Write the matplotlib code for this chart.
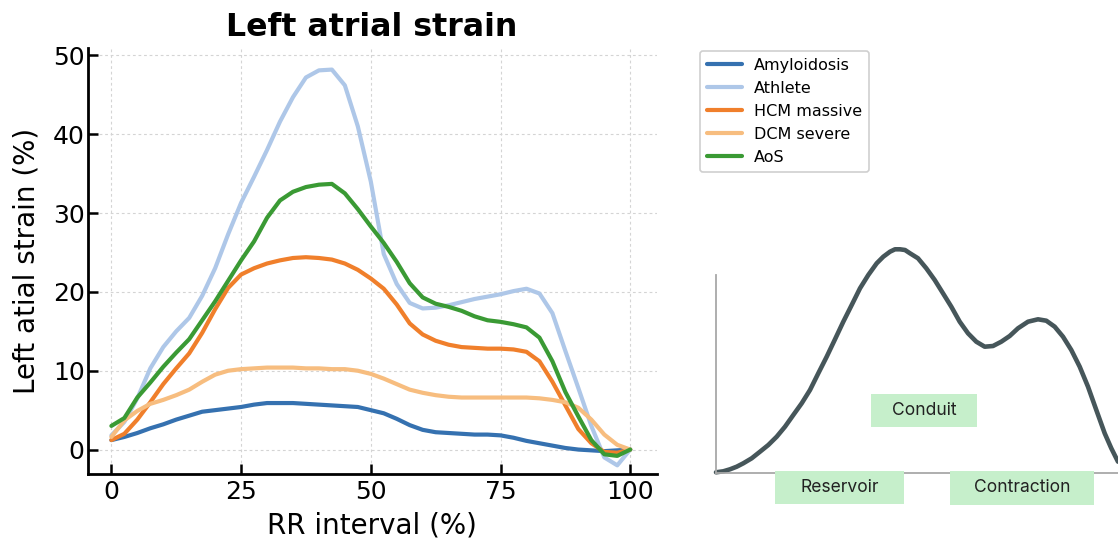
import matplotlib.pyplot as plt
from matplotlib.patches import Rectangle


"""
Left atrial strain curves per group, plus a schematic of the strain phases
"""

# RR interval (%) sample positions
rr = [0, 2.5, 5, 7.5, 10, 12.5, 15, 17.5, 20, 22.5, 25, 27.5, 30, 32.5, 35, 37.5, 40,
      42.5, 45, 47.5, 50, 52.5, 55, 57.5, 60, 62.5, 65, 67.5, 70, 72.5, 75, 77.5, 80,
      82.5, 85, 87.5, 90, 92.5, 95, 97.5, 100]

amyloidosis = [1.2, 1.6, 2.1, 2.7, 3.2, 3.8, 4.3, 4.8, 5.0, 5.2, 5.4, 5.7, 5.9, 5.9, 5.9,
               5.8, 5.7, 5.6, 5.5, 5.4, 5.0, 4.6, 3.9, 3.1, 2.5, 2.2, 2.1, 2.0, 1.9, 1.9,
               1.8, 1.5, 1.1, 0.8, 0.5, 0.2, 0.0, -0.1, -0.2, -0.1, 0.0]
athlete = [1.8, 3.5, 6.5, 10.3, 13.0, 15.0, 16.7, 19.5, 23.0, 27.3, 31.3, 34.6, 38.0, 41.6,
           44.7, 47.2, 48.1, 48.2, 46.2, 41.0, 34.0, 24.8, 21.0, 18.6, 17.9, 18.0, 18.3,
           18.7, 19.1, 19.4, 19.7, 20.1, 20.4, 19.8, 17.3, 12.5, 7.8, 3.0, -1.0, -2.0, 0.0]
hcm_massive = [1.2, 2.0, 3.8, 6.0, 8.3, 10.3, 12.2, 14.8, 17.8, 20.5, 22.2, 23.0, 23.6, 24.0,
               24.3, 24.4, 24.3, 24.1, 23.6, 22.8, 21.7, 20.4, 18.4, 16.0, 14.6, 13.8, 13.3,
               13.0, 12.9, 12.8, 12.8, 12.7, 12.4, 11.2, 8.6, 5.6, 2.6, 0.8, -0.3, -0.4, 0.0]
dcm_severe = [1.6, 3.7, 4.9, 5.8, 6.3, 6.9, 7.6, 8.6, 9.5, 10.0, 10.2, 10.3, 10.4, 10.4,
              10.4, 10.3, 10.3, 10.2, 10.2, 10.0, 9.6, 9.0, 8.3, 7.6, 7.2, 6.9, 6.7, 6.6,
              6.6, 6.6, 6.6, 6.6, 6.6, 6.5, 6.3, 6.0, 5.3, 3.8, 1.9, 0.6, 0.0]
aos = [3.0, 4.0, 6.6, 8.5, 10.5, 12.3, 14.0, 16.4, 18.8, 21.4, 24.0, 26.4, 29.4, 31.6, 32.7,
       33.3, 33.6, 33.7, 32.5, 30.5, 28.3, 26.2, 23.8, 21.1, 19.3, 18.5, 18.1, 17.6, 16.9,
       16.4, 16.2, 15.9, 15.5, 14.2, 11.2, 7.3, 4.2, 1.2, -0.6, -0.8, 0.0]

groups = ['Amyloidosis', 'Athlete', 'HCM massive', 'DCM severe', 'AoS']
colors = ['#3571b0', '#aec7e8', '#f07f2b', '#f7bd7f', '#3a9a34']

# schematic curve (pixel-like units from the axes origin)
sketch_x = [0.3, 7.6, 14.3, 21, 27.6, 36, 44.3, 52.6, 61, 69.3, 77.6, 86, 94.3, 102.6, 111,
            119.3, 127.6, 136, 144.3, 152.6, 161, 167.6, 174.3, 179.3, 184.3, 189.3, 194.3,
            202.3, 210.6, 219, 227.3, 235.6, 244, 252.3, 260.6, 269, 277.3, 285.6, 294,
            302.3, 312.3, 322.3, 330.6, 339, 347.3, 355.6, 364, 372.3, 380.6, 389, 395.6,
            402.3]
sketch_y = [1, 2, 4, 6.6, 10, 15, 21.6, 28.3, 36.6, 46.6, 58.3, 70, 83.3, 100, 116.6, 134,
            151.6, 168.3, 185, 198.3, 210, 216.6, 221.6, 224, 224, 223.3, 220, 215, 205,
            193.3, 180, 166.6, 151.6, 140, 131.6, 126.6, 127.3, 131.6, 137.3, 145, 151.6,
            154, 152.6, 146.6, 136.6, 123.3, 106.6, 86.6, 63.3, 40, 25, 11.6]

phases = ['Reservoir', 'Conduit', 'Contraction']
# box corners x0, x1, y0, y1 in the same units
phase_boxes = [(59.3, 188, -30.7, 2.6), (155.3, 261, 46, 79.3), (234.3, 378.3, -31.4, 2.0)]


if __name__ == '__main__':

    W, H = 1118, 538
    fig = plt.figure(figsize=(W / 100, H / 100), dpi=100)

    # main strain plot
    ax = fig.add_axes([87.5 / W, 64 / H, (656.7 - 87.5) / W, (474 - 48.3) / H])
    series = [amyloidosis, athlete, hcm_massive, dcm_severe, aos]
    for name, vals, c in zip(groups, series, colors):
        ax.plot(rr, vals, color=c, lw=3, label=name, solid_capstyle='round',
                solid_joinstyle='round')

    ax.set_xlim(-4.6, 105.1)
    ax.set_ylim(-3.1, 50.9)
    ax.set_xticks([0, 25, 50, 75, 100])
    ax.set_yticks([0, 10, 20, 30, 40, 50])
    ax.grid(True, color='#d4d4d4', lw=0.8, linestyle=(0, (2.5, 2.5)))
    ax.set_axisbelow(True)
    for s in ['top', 'right']:
        ax.spines[s].set_visible(False)
    for s in ['left', 'bottom']:
        ax.spines[s].set_linewidth(2)
    ax.tick_params(direction='in', length=7, width=1.8, labelsize=18)
    ax.tick_params(axis='x', pad=4)
    ax.tick_params(axis='y', pad=2)
    ax.set_title('Left atrial strain', fontsize=22.8, fontweight='bold', pad=9)
    ax.set_xlabel('RR interval (%)', fontsize=20, labelpad=6)
    ax.set_ylabel('Left atial strain (%)', fontsize=20, labelpad=9)

    handles, labels = ax.get_legend_handles_labels()
    leg = fig.legend(handles, labels, loc='upper left',
                     bbox_to_anchor=(700 / W, 1 - 50.7 / H), borderaxespad=0,
                     fontsize=11.5, handlelength=2.2, handletextpad=0.7,
                     labelspacing=0.5, borderpad=0.45, framealpha=1,
                     edgecolor='#cfcfcf', fancybox=True)
    leg.get_frame().set_linewidth(1.2)

    # schematic of the phases
    ax2 = fig.add_axes([715.7 / W, (H - 473.3) / H, 402.3 / W, 240 / H])
    ax2.plot(sketch_x, sketch_y, color='#46565a', lw=3.3, solid_capstyle='round',
             solid_joinstyle='round', clip_on=False)
    ax2.set_xlim(0, 402.3)
    ax2.set_ylim(0, 240)
    ax2.set_xticks([])
    ax2.set_yticks([])
    for s in ['top', 'right']:
        ax2.spines[s].set_visible(False)
    for s in ['left', 'bottom']:
        ax2.spines[s].set_color('#a8a8a8')
        ax2.spines[s].set_linewidth(1.3)
    ax2.spines['left'].set_bounds(0, 198.3)
    ax2.patch.set_alpha(0)

    for name, (x0, x1, y0, y1) in zip(phases, phase_boxes):
        ax2.add_patch(Rectangle((x0, y0), x1 - x0, y1 - y0, facecolor='#c6efcb',
                                edgecolor='none', clip_on=False, zorder=3))
        ax2.text((x0 + x1) / 2, (y0 + y1) / 2, name, ha='center', va='center',
                 fontsize=12.6, color='#222222', family='Inter', zorder=4)

    plt.savefig('out.png', dpi=100)
    plt.close()
